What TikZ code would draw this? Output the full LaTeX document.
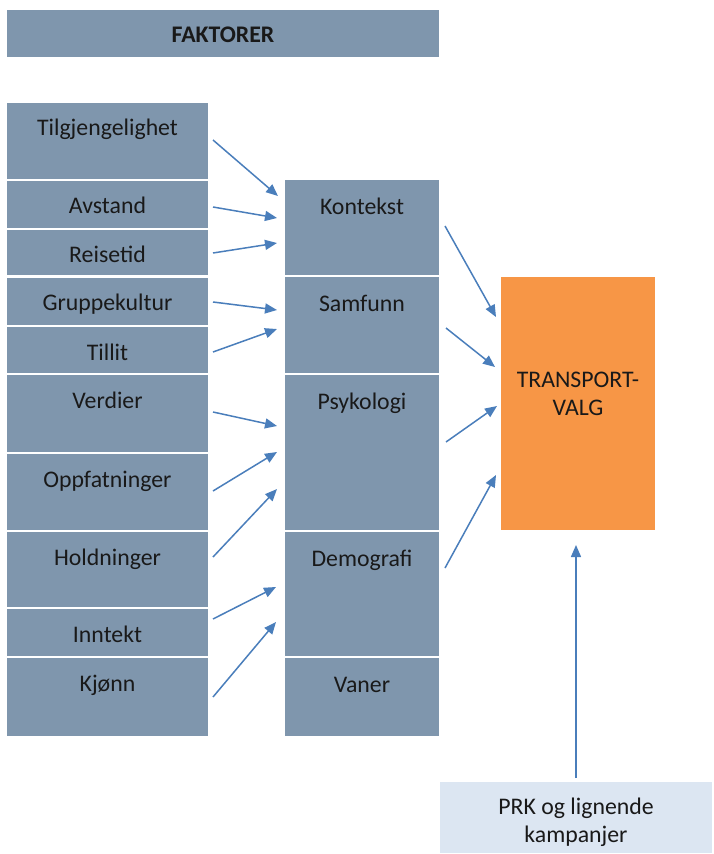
\documentclass[tikz,border=0pt]{standalone}
\usepackage{fontspec}
\setmainfont{Carlito}
\usetikzlibrary{arrows.meta,calc}
\definecolor{boxblue}{RGB}{127,150,173}
\definecolor{orng}{RGB}{247,150,70}
\definecolor{lightbox}{RGB}{220,230,242}
\definecolor{arrowblue}{RGB}{74,126,187}
\begin{document}
\begin{tikzpicture}[x=1pt,y=-1pt,
  box/.style={fill=boxblue, draw=none, anchor=north west, inner sep=0pt, outer sep=0pt},
  lbl/.style={anchor=base, inner sep=0pt, font=\fontsize{23.8}{28}\selectfont, align=center, text=black!90},
  arr/.style={draw=arrowblue, line width=1.5pt, -{Triangle[length=12pt,width=10pt]}}]
\useasboundingbox (0,0) rectangle (713,854);
% header
\node[box, minimum width=432pt, minimum height=47pt] (fak) at (7,10) {};
\node[lbl, font=\fontsize{23.8}{28}\selectfont\bfseries] (fakT) at ([yshift=-32pt]fak.north) {FAKTORER};
% left column
\node[box, minimum width=201pt, minimum height=76pt] (tilg) at (7,103) {};
\node[box, minimum width=201pt, minimum height=47pt] (avst) at (7,181) {};
\node[box, minimum width=201pt, minimum height=45pt] (reis) at (7,230) {};
\node[box, minimum width=201pt, minimum height=47pt] (grup) at (7,278) {};
\node[box, minimum width=201pt, minimum height=46pt] (till) at (7,327) {};
\node[box, minimum width=201pt, minimum height=77pt] (verd) at (7,375) {};
\node[box, minimum width=201pt, minimum height=76pt] (oppf) at (7,454) {};
\node[box, minimum width=201pt, minimum height=75pt] (hold) at (7,532) {};
\node[box, minimum width=201pt, minimum height=47pt] (innt) at (7,609) {};
\node[box, minimum width=201pt, minimum height=78pt] (kjon) at (7,658) {};
\node[lbl] (tilgT) at ([yshift=-32pt]tilg.north) {Tilgjengelighet};
\node[lbl] (avstT) at ([yshift=-32pt]avst.north) {Avstand};
\node[lbl] (reisT) at ([yshift=-32pt]reis.north) {Reisetid};
\node[lbl] (grupT) at ([yshift=-32pt]grup.north) {Gruppekultur};
\node[lbl] (tillT) at ([yshift=-33pt]till.north) {Tillit};
\node[lbl] (verdT) at ([yshift=-33pt]verd.north) {Verdier};
\node[lbl] (oppfT) at ([yshift=-33pt]oppf.north) {Oppfatninger};
\node[lbl] (holdT) at ([yshift=-33pt]hold.north) {Holdninger};
\node[lbl] (inntT) at ([yshift=-33pt]innt.north) {Inntekt};
\node[lbl] (kjonT) at ([yshift=-33pt]kjon.north) {Kjønn};
% middle column
\node[box, minimum width=154pt, minimum height=95pt] (kont) at (285,180) {};
\node[box, minimum width=154pt, minimum height=96pt] (samf) at (285,277) {};
\node[box, minimum width=154pt, minimum height=155pt] (psyk) at (285,375) {};
\node[box, minimum width=154pt, minimum height=124pt] (demo) at (285,532) {};
\node[box, minimum width=154pt, minimum height=78pt] (vane) at (285,658) {};
\node[lbl] (kontT) at ([yshift=-34pt]kont.north) {Kontekst};
\node[lbl] (samfT) at ([yshift=-34pt]samf.north) {Samfunn};
\node[lbl] (psykT) at ([yshift=-34pt]psyk.north) {Psykologi};
\node[lbl] (demoT) at ([yshift=-34pt]demo.north) {Demografi};
\node[lbl] (vaneT) at ([yshift=-34pt]vane.north) {Vaner};
% transport
\node[box, fill=orng, minimum width=154pt, minimum height=253pt] (tv) at (501,277) {};
\node[lbl] (tvT) at ([yshift=-138pt]tv.north) {TRANSPORT-\\VALG};
% campaign
\node[box, fill=lightbox, minimum width=272pt, minimum height=71pt] (prk) at (440,782) {};
\node[lbl] (prkT) at ([yshift=-60pt]prk.north) {PRK og lignende\\kampanjer};
% arrows left -> middle
\draw[arr] ($(tilg.north east)+(5,37)$) -- ($(kont.north west)+(-7,16)$);
\draw[arr] ($(avst.north east)+(5,26)$) -- ($(kont.north west)+(-8,38)$);
\draw[arr] ($(reis.north east)+(5,23)$) -- ($(kont.north west)+(-8,63)$);
\draw[arr] ($(grup.north east)+(5,24)$) -- ($(samf.north west)+(-8,33)$);
\draw[arr] ($(till.north east)+(5,25)$) -- ($(samf.north west)+(-8,52)$);
\draw[arr] ($(verd.north east)+(5,37)$) -- ($(psyk.north west)+(-8,51)$);
\draw[arr] ($(oppf.north east)+(5,37)$) -- ($(psyk.north west)+(-8,77)$);
\draw[arr] ($(hold.north east)+(5,25)$) -- ($(psyk.north west)+(-8,114)$);
\draw[arr] ($(innt.north east)+(5,10)$) -- ($(demo.north west)+(-9,55)$);
\draw[arr] ($(kjon.north east)+(5,39)$) -- ($(demo.north west)+(-9,90)$);
% arrows middle -> transport
\draw[arr] ($(kont.north east)+(6,46)$) -- ($(tv.north west)+(-5,40)$);
\draw[arr] ($(samf.north east)+(7,51)$) -- ($(tv.north west)+(-6,90)$);
\draw[arr] ($(psyk.north east)+(7,67)$) -- ($(tv.north west)+(-4,129)$);
\draw[arr] ($(demo.north east)+(6,36)$) -- ($(tv.north west)+(-5,198)$);
% campaign arrow
\draw[arr] ($(prk.north)+(0,-4)$) -- ($(prk.north)+(0,-237)$);
\end{tikzpicture}
\end{document}
